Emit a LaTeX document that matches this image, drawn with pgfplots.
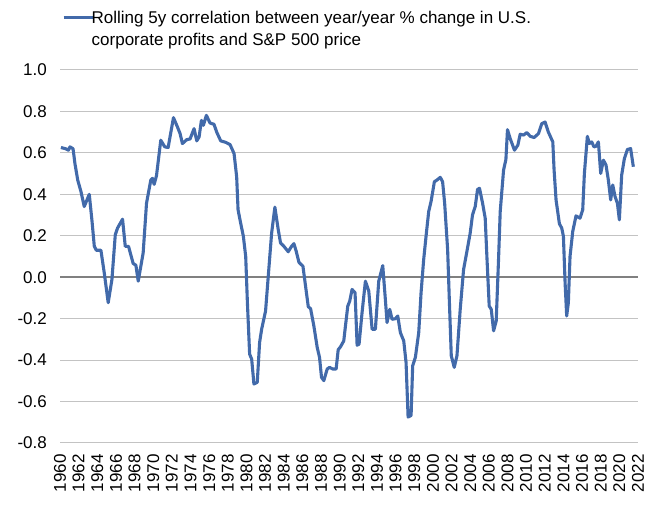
\documentclass[border=0pt]{standalone}
\usepackage{pgfplots}
\pgfplotsset{compat=1.18}
\usepackage{fontspec}
\setmainfont{Liberation Sans}
\definecolor{lineblue}{RGB}{66,106,170}
\definecolor{gridgray}{RGB}{195,195,195}
\definecolor{zerogray}{RGB}{128,128,128}
\begin{document}
\begin{tikzpicture}
\begin{axis}[name=ax,
  scale only axis, width=578pt, height=373pt,
  xmin=1960, xmax=2022, ymin=-0.8, ymax=1.0,
  axis line style={draw=none},
  major tick length=0pt,
  xtick={1960,1962,...,2022},
  ytick={-0.8,-0.6,...,1.01},
  ymajorgrids,
  grid style={gridgray, line width=1pt},
  extra y ticks={0}, extra y tick labels={},
  extra y tick style={grid style={zerogray, line width=2.2pt}},
  /pgf/number format/assume math mode=true,
  xticklabel style={rotate=90, anchor=east, inner sep=0pt,
    font=\fontsize{17}{20}\selectfont,
    /pgf/number format/1000 sep={}},
  xticklabel shift=11pt,
  yticklabel style={inner sep=0pt, font=\fontsize{17}{20}\selectfont,
    /pgf/number format/.cd, fixed, fixed zerofill, precision=1},
  yticklabel shift=13pt,
  legend style={at={(axis description cs:0,1)}, anchor=south west,
    xshift=3.5pt, yshift=21pt, draw=none, fill=none, inner sep=0pt,
    font=\fontsize{17}{22}\selectfont, cells={align=left}},
  legend cell align=left,
  legend image code/.code={%
    \path[draw=none, fill=none] (0pt,0pt) -- (26pt,0pt);
    \draw[#1,overlay] (0pt,11.5pt) -- (30pt,11.5pt);},
]
\addplot[lineblue, line width=3.1pt, line join=round] table {
x y
1960.1 0.626
1960.6 0.620
1960.9 0.613
1961.07 0.629
1961.4 0.620
1961.6 0.549
1961.9 0.469
1962.25 0.413
1962.6 0.341
1963.14 0.400
1963.42 0.277
1963.68 0.149
1963.9 0.130
1964.39 0.130
1964.75 0.020
1965.17 -0.123
1965.57 -0.011
1965.93 0.205
1966.17 0.237
1966.71 0.280
1967.0 0.149
1967.35 0.149
1967.85 0.066
1968.14 0.058
1968.39 -0.019
1968.92 0.117
1969.28 0.357
1969.74 0.469
1969.92 0.477
1970.1 0.448
1970.35 0.490
1970.81 0.661
1971.24 0.629
1971.6 0.626
1972.17 0.770
1972.6 0.725
1972.88 0.693
1973.13 0.645
1973.6 0.664
1973.95 0.667
1974.38 0.717
1974.67 0.658
1974.92 0.677
1975.17 0.757
1975.38 0.733
1975.7 0.781
1976.1 0.744
1976.52 0.738
1976.81 0.700
1977.24 0.658
1977.77 0.651
1978.24 0.640
1978.67 0.597
1978.95 0.485
1979.1 0.325
1979.38 0.261
1979.67 0.197
1979.92 0.100
1980.1 -0.120
1980.34 -0.371
1980.56 -0.395
1980.8 -0.515
1981.16 -0.507
1981.41 -0.315
1981.63 -0.251
1982.05 -0.163
1982.34 0.005
1982.7 0.213
1983.05 0.338
1983.41 0.229
1983.66 0.165
1984.02 0.149
1984.48 0.123
1984.84 0.149
1985.09 0.162
1985.34 0.125
1985.63 0.072
1986.06 0.053
1986.34 -0.043
1986.63 -0.142
1986.88 -0.152
1987.23 -0.235
1987.59 -0.339
1987.84 -0.387
1988.05 -0.483
1988.3 -0.499
1988.66 -0.443
1988.91 -0.435
1989.26 -0.443
1989.62 -0.443
1989.84 -0.350
1990.1 -0.335
1990.44 -0.307
1990.62 -0.235
1990.87 -0.139
1991.08 -0.115
1991.33 -0.059
1991.65 -0.075
1991.87 -0.328
1992.08 -0.323
1992.4 -0.171
1992.76 -0.019
1993.12 -0.067
1993.48 -0.251
1993.83 -0.251
1994.19 -0.019
1994.62 0.056
1994.9 -0.107
1995.08 -0.219
1995.37 -0.155
1995.62 -0.203
1995.98 -0.200
1996.23 -0.187
1996.51 -0.267
1996.87 -0.307
1997.12 -0.411
1997.34 -0.675
1997.66 -0.667
1997.83 -0.427
1998.12 -0.387
1998.48 -0.267
1998.73 -0.075
1999.01 0.085
1999.3 0.213
1999.55 0.317
1999.8 0.365
2000.16 0.461
2000.44 0.469
2000.79 0.482
2001.04 0.461
2001.26 0.357
2001.58 0.133
2001.76 -0.107
2001.97 -0.379
2002.29 -0.435
2002.58 -0.379
2002.93 -0.155
2003.29 0.037
2003.65 0.125
2004.0 0.213
2004.25 0.301
2004.54 0.341
2004.79 0.424
2005.0 0.429
2005.33 0.357
2005.61 0.285
2005.79 0.101
2006.04 -0.139
2006.26 -0.155
2006.51 -0.259
2006.79 -0.211
2007.04 0.085
2007.22 0.317
2007.58 0.517
2007.83 0.568
2008.0 0.712
2008.29 0.669
2008.75 0.613
2009.11 0.637
2009.36 0.690
2009.72 0.686
2010.08 0.698
2010.44 0.680
2010.86 0.674
2011.32 0.693
2011.68 0.741
2012.03 0.749
2012.39 0.700
2012.86 0.653
2013.0 0.517
2013.21 0.373
2013.57 0.258
2013.82 0.237
2014.0 0.197
2014.18 -0.027
2014.35 -0.187
2014.53 -0.123
2014.71 0.101
2015.0 0.221
2015.35 0.296
2015.78 0.285
2016.07 0.325
2016.25 0.501
2016.57 0.680
2016.78 0.645
2017.03 0.653
2017.28 0.629
2017.5 0.632
2017.75 0.653
2018.0 0.501
2018.29 0.565
2018.57 0.541
2018.82 0.469
2019.07 0.373
2019.29 0.445
2019.54 0.389
2019.79 0.357
2020.0 0.277
2020.25 0.493
2020.54 0.573
2020.86 0.616
2021.21 0.621
2021.5 0.533
};
\addlegendentry{Rolling 5y correlation between year/year \% change in U.S.\\corporate profits and S\&P 500 price}
\end{axis}
\pgfresetboundingbox
\path ([xshift=-60pt,yshift=-62pt]ax.south west) rectangle ([xshift=15pt,yshift=70pt]ax.north east);
\end{tikzpicture}
\end{document}
